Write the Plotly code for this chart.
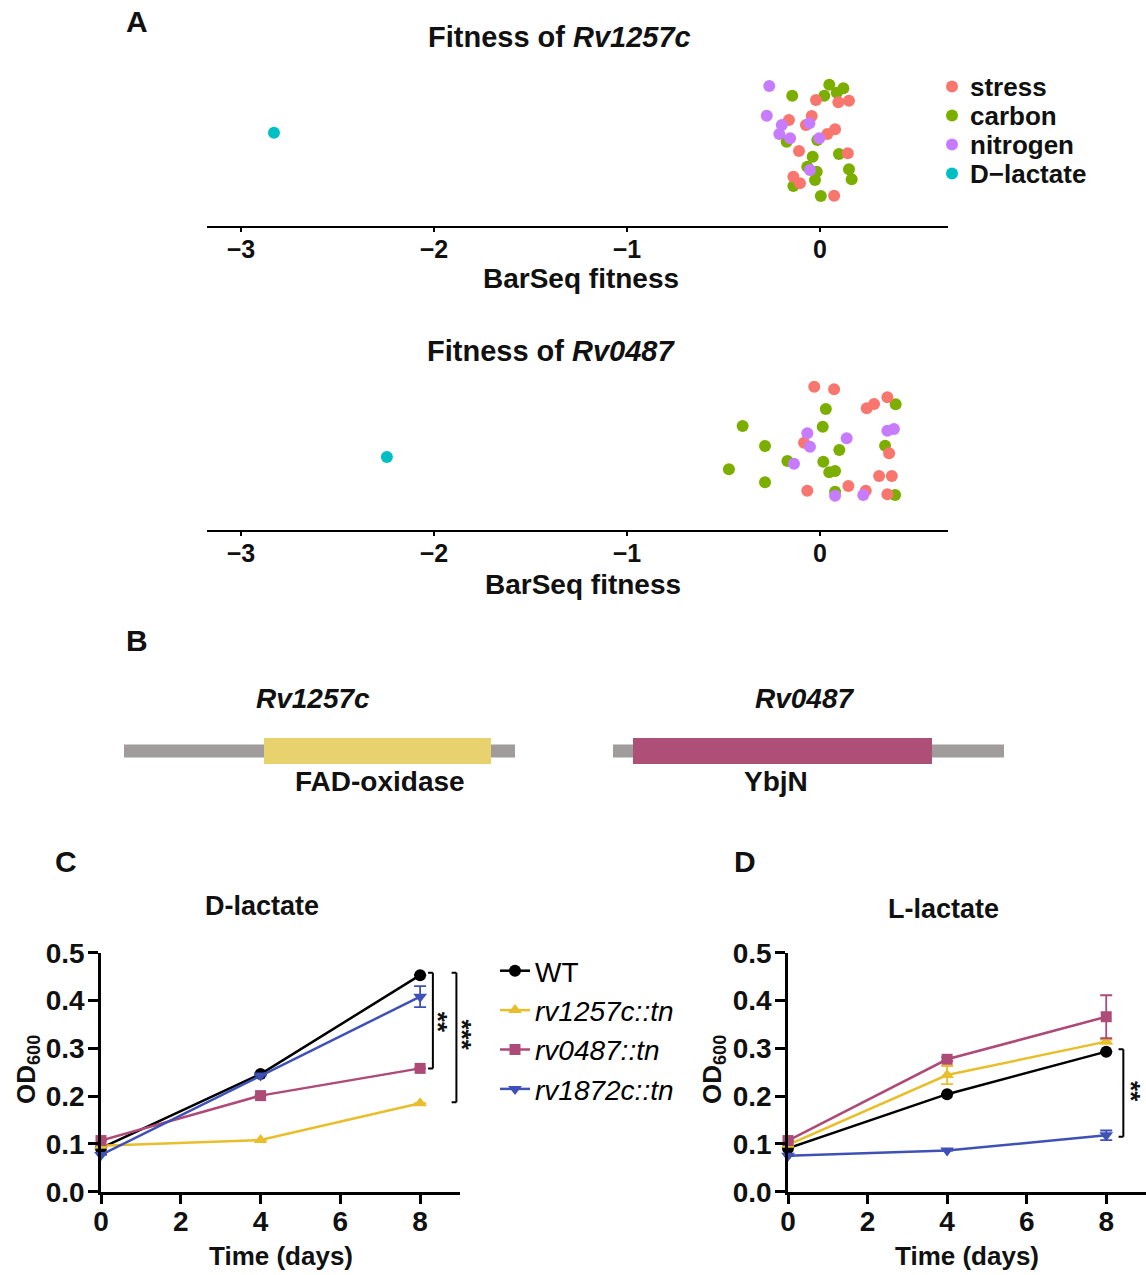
import plotly.graph_objects as go

W, H = 1146, 1275
FONT = "Liberation Sans, Arial, sans-serif"


def X(px):
    return px / W


def Y(py):
    return 1 - py / H


# ---------------- Panel A data (BarSeq fitness, y = strip jitter) ----------------
conditions = ["stress", "carbon", "nitrogen", "D\u2212lactate"]
cond_colors = ["#F8766D", "#7CAE00", "#C77CFF", "#00BFC4"]

rv1257c_stress = [-0.021, 0.095, 0.150, -0.161, -0.043, -0.073, 0.038, 0.078, -0.109, 0.144, -0.138, -0.104, 0.073]
rv1257c_stress_jit = [0.84, 0.825, 0.835, 0.707, 0.733, 0.673, 0.613, 0.645, 0.50, 0.485, 0.329, 0.285, 0.202]
rv1257c_carbon = [0.048, -0.144, 0.121, 0.087, 0.022, -0.173, -0.014, -0.038, 0.098, -0.066, -0.017, -0.026, 0.150, 0.164, -0.138, 0.004]
rv1257c_carbon_jit = [0.942, 0.869, 0.918, 0.889, 0.869, 0.562, 0.573, 0.462, 0.48, 0.395, 0.362, 0.307, 0.378, 0.311, 0.267, 0.20]
rv1257c_nitrogen = [-0.263, -0.276, -0.198, -0.211, -0.155, -0.055, -0.004, -0.052]
rv1257c_nitrogen_jit = [0.933, 0.735, 0.673, 0.613, 0.585, 0.685, 0.585, 0.373]
rv1257c_dlac = [-2.829]
rv1257c_dlac_jit = [0.622]

rv0487_stress = [-0.030, 0.073, 0.242, 0.280, 0.349, -0.083, 0.358, 0.306, 0.372, -0.066, 0.147, 0.237, 0.349]
rv0487_stress_jit = [0.955, 0.938, 0.811, 0.84, 0.885, 0.582, 0.511, 0.36, 0.36, 0.262, 0.293, 0.262, 0.238]
rv0487_carbon = [0.392, 0.030, -0.401, 0.014, -0.285, 0.100, 0.337, -0.169, 0.017, -0.472, 0.048, 0.078, -0.285, 0.078, 0.389]
rv0487_carbon_jit = [0.838, 0.807, 0.693, 0.689, 0.56, 0.533, 0.562, 0.46, 0.455, 0.405, 0.385, 0.393, 0.318, 0.255, 0.233]
rv0487_nitrogen = [-0.066, -0.052, 0.138, 0.349, 0.383, -0.135, 0.078, 0.224]
rv0487_nitrogen_jit = [0.645, 0.555, 0.611, 0.662, 0.673, 0.442, 0.229, 0.233]
rv0487_dlac = [-2.244]
rv0487_dlac_jit = [0.487]

fitness_ticks = [-3, -2, -1, 0]

# ---------------- Panel B data (schematic gene units) ----------------
genes = ["Rv1257c", "Rv0487"]
locus_start = [124, 613]
locus_end = [515, 1004]
domain_start = [264, 633]
domain_end = [491, 932]
domain_names = ["FAD-oxidase", "YbjN"]
domain_colors = ["#E8D26E", "#AE4F77"]

# ---------------- Panels C/D data (growth curves) ----------------
days = [0, 4, 8]
strains = ["WT", "rv1257c::tn", "rv0487::tn", "rv1872c::tn"]
strain_colors = ["#000000", "#E8BE2A", "#AE4A78", "#3F51B5"]
strain_symbols = ["circle", "triangle-up", "square", "triangle-down"]

dlac_od = [
    [0.091, 0.246, 0.453],
    [0.096, 0.108, 0.185],
    [0.107, 0.201, 0.258],
    [0.077, 0.243, 0.408],
]
dlac_err = [
    [0.0, 0.0, 0.0],
    [0.0, 0.0, 0.0],
    [0.0, 0.0, 0.0],
    [0.0, 0.0, 0.022],
]
llac_od = [
    [0.091, 0.204, 0.293],
    [0.098, 0.244, 0.314],
    [0.107, 0.277, 0.366],
    [0.075, 0.086, 0.118],
]
llac_err = [
    [0.0, 0.0, 0.0],
    [0.0, 0.019, 0.004],
    [0.0, 0.004, 0.045],
    [0.0, 0.0, 0.010],
]
od_ticks = [0.0, 0.1, 0.2, 0.3, 0.4, 0.5]
day_ticks = [0, 2, 4, 6, 8]

fig = go.Figure()

# ---- Panel A traces ----
topA = [(rv1257c_stress, rv1257c_stress_jit), (rv1257c_carbon, rv1257c_carbon_jit),
        (rv1257c_nitrogen, rv1257c_nitrogen_jit), (rv1257c_dlac, rv1257c_dlac_jit)]
botA = [(rv0487_stress, rv0487_stress_jit), (rv0487_carbon, rv0487_carbon_jit),
        (rv0487_nitrogen, rv0487_nitrogen_jit), (rv0487_dlac, rv0487_dlac_jit)]
draw_order = [1, 0, 2, 3]
for panel, (data, xa, ya) in enumerate([(topA, "x", "y"), (botA, "x2", "y2")]):
    for i in draw_order:
        xs, ys = data[i]
        fig.add_trace(go.Scatter(x=xs, y=ys, mode="markers", name=conditions[i],
                                 marker=dict(color=cond_colors[i], size=12, line=dict(width=0)),
                                 xaxis=xa, yaxis=ya, cliponaxis=False, showlegend=False))

# ---- Panel A legend (drawn as a small marker column) ----
rows = list(range(len(conditions)))
fig.add_trace(go.Scatter(x=[0] * len(conditions), y=rows, mode="markers",
                         marker=dict(color=cond_colors, size=12, line=dict(width=0)),
                         xaxis="x6", yaxis="y6", cliponaxis=False, showlegend=False, hoverinfo="skip"))

# ---- Panels C/D traces ----
for k in range(4):
    for (ods, errs, xa, ya, show) in [(dlac_od, dlac_err, "x4", "y4", True),
                                       (llac_od, llac_err, "x5", "y5", False)]:
        fig.add_trace(go.Scatter(
            x=days, y=ods[k], mode="lines+markers", name=strains[k] if k == 0 else f"<i>{strains[k]}</i>",
            line=dict(color=strain_colors[k], width=2.5),
            marker=dict(color=strain_colors[k], symbol=strain_symbols[k], size=12 if k != 2 else 11),
            error_y=dict(type="data", array=errs[k], visible=True, color=strain_colors[k],
                         thickness=1.8, width=6),
            xaxis=xa, yaxis=ya, legend="legend", legendgroup=strains[k],
            showlegend=show, cliponaxis=False))

# ---- Panel B trace (invisible, just to activate axes) ----
fig.add_trace(go.Scatter(x=[locus_start[0]], y=[0], mode="markers", marker=dict(opacity=0),
                         xaxis="x3", yaxis="y3", showlegend=False, hoverinfo="skip"))

shapes = []
for g in range(2):
    shapes.append(dict(type="rect", xref="x3", yref="y3", x0=locus_start[g], x1=locus_end[g],
                       y0=-0.26, y1=0.26, fillcolor="#A09C9B", line=dict(width=0), layer="above"))
    shapes.append(dict(type="rect", xref="x3", yref="y3", x0=domain_start[g], x1=domain_end[g],
                       y0=-0.52, y1=0.52, fillcolor=domain_colors[g], line=dict(width=0), layer="above"))


# significance brackets
def bracket(xref, yref, xv, xt, y0, y1):
    return [
        dict(type="line", xref=xref, yref=yref, x0=xv, x1=xv, y0=y0, y1=y1, line=dict(color="black", width=2)),
        dict(type="line", xref=xref, yref=yref, x0=xt, x1=xv, y0=y0, y1=y0, line=dict(color="black", width=2)),
        dict(type="line", xref=xref, yref=yref, x0=xt, x1=xv, y0=y1, y1=y1, line=dict(color="black", width=2)),
    ]


shapes += bracket("x4", "y4", 8.32, 8.2, dlac_od[0][2] + 0.005, dlac_od[2][2])
shapes += bracket("x4", "y4", 8.91, 8.79, dlac_od[0][2] + 0.005, dlac_od[1][2] + 0.002)
shapes += bracket("x5", "y5", 8.43, 8.31, llac_od[0][2] + 0.005, llac_od[3][2] - 0.003)

annotations = []


def ann(text, px, py, size, weight="bold", xanchor="center", yanchor="middle", angle=0,
        xref="paper", yref="paper", xv=None, yv=None, xshift=0):
    annotations.append(dict(
        text=text, x=xv if xv is not None else X(px), y=yv if yv is not None else Y(py),
        xref=xref, yref=yref, showarrow=False, xanchor=xanchor, yanchor=yanchor, textangle=angle,
        xshift=xshift,
        font=dict(family=FONT, size=size, color="#111111" if weight == "bold" else "black", weight=weight)))


# panel letters
ann("A", 137, 22, 30)
ann("B", 137, 640, 30)
ann("C", 66, 862, 30)
ann("D", 745, 862, 30)

# panel A titles
ann("Fitness of <i>Rv1257c</i>", 559, 37, 29)
ann("Fitness of <i>Rv0487</i>", 551, 351, 29)
ann("BarSeq fitness", 581, 278, 28)
ann("BarSeq fitness", 583, 585, 28)

# panel A legend labels
for i, c in enumerate(conditions):
    ann(c, 0, 0, 26, xanchor="left", xref="x6", yref="y6", xv=0, yv=rows[i], xshift=16)

# panel B labels
ann(f"<i>{genes[0]}</i>", 313, 698, 28)
ann(f"<i>{genes[1]}</i>", 805, 698, 28)
ann(domain_names[0], 380, 782, 28)
ann(domain_names[1], 776, 782, 28)

# panel C/D titles
ann("D-lactate", 262, 906, 27)
ann("L-lactate", 943, 909, 27)
ann("OD<sub>600</sub>", 27, 1070, 26, angle=-90)
ann("OD<sub>600</sub>", 713, 1070, 26, angle=-90)
ann("Time (days)", 281, 1256, 26)
ann("Time (days)", 967, 1256, 26)

# stars
ann("**", 438, 0, 26, angle=90, yref="y4", yv=(dlac_od[0][2] + dlac_od[2][2]) / 2)
ann("***", 462, 0, 26, angle=90, yref="y4", yv=(dlac_od[0][2] + dlac_od[1][2]) / 2 + 0.01)
ann("**", 1131, 0, 26, angle=90, yref="y5", yv=(llac_od[0][2] + llac_od[3][2]) / 2 + 0.005)

axA = dict(showline=True, linecolor="black", linewidth=2, ticks="outside", ticklen=4, tickwidth=2,
           tickcolor="black", tickvals=fitness_ticks, range=[-3.176, 0.663], showgrid=False,
           zeroline=False, tickfont=dict(family=FONT, size=25, color="#111111", weight="bold"),
           domain=[X(207), X(948)], fixedrange=True, automargin=False, ticklabelstandoff=-4)
axC = dict(showline=True, linecolor="black", linewidth=2.5, ticks="outside", ticklen=10, tickwidth=2.5,
           tickcolor="black", showgrid=False, zeroline=False, automargin=False,
           tickfont=dict(family=FONT, size=28, color="#111111", weight="bold"))
hid = dict(visible=False, automargin=False, showgrid=False, zeroline=False)

fig.update_layout(
    width=W, height=H, margin=dict(l=0, r=0, t=0, b=0, pad=0, autoexpand=False),
    autosize=False,
    paper_bgcolor="white", plot_bgcolor="white",
    xaxis=dict(axA, anchor="y"),
    yaxis=dict(hid, domain=[Y(226), Y(76)], range=[0, 1], anchor="x"),
    xaxis2=dict(axA, anchor="y2"),
    yaxis2=dict(hid, domain=[Y(530), Y(380)], range=[0, 1], anchor="x2"),
    xaxis3=dict(hid, domain=[0, 1], range=[0, W], anchor="y3"),
    yaxis3=dict(hid, domain=[Y(776), Y(726)], range=[-1, 1], anchor="x3"),
    xaxis4=dict(axC, domain=[X(101), X(460)], range=[0, 9], tickvals=day_ticks, anchor="y4",
                ticklabelstandoff=-7),
    yaxis4=dict(axC, domain=[Y(1191.7), Y(952.7)], range=[0, 0.5], tickvals=od_ticks, tickformat=".1f",
                anchor="x4", ticklabelstandoff=-2),
    xaxis5=dict(axC, domain=[X(788), 1.0], range=[0, 9], tickvals=day_ticks, anchor="y5",
                ticklabelstandoff=-7),
    yaxis5=dict(axC, domain=[Y(1191.7), Y(952.7)], range=[0, 0.5], tickvals=od_ticks, tickformat=".1f",
                anchor="x5", ticklabelstandoff=-2),
    xaxis6=dict(hid, domain=[X(940), X(964)], range=[-1, 1], anchor="y6"),
    yaxis6=dict(hid, domain=[Y(188), Y(72)], range=[3.5, -0.5], anchor="x6"),
    legend=dict(x=X(495), y=Y(946), xanchor="left", yanchor="top", bgcolor="rgba(0,0,0,0)",
                font=dict(family=FONT, size=28, color="black"), tracegroupgap=0,
                traceorder="grouped"),
    shapes=shapes,
    annotations=annotations,
    showlegend=True,
)

fig.write_html("out.html", config={"displayModeBar": False},
               post_script="document.body.style.margin='0px';document.body.style.overflow='hidden';")
